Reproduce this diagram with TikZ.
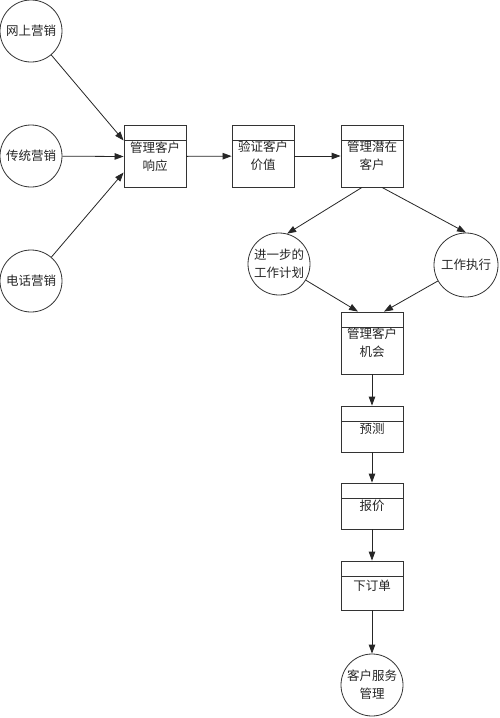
\documentclass[tikz,border=0pt]{standalone}
\usepackage{fontspec}
\setmainfont{Noto Sans CJK SC}
\usetikzlibrary{arrows.meta}
\tikzset{
  base/.style={draw=black!80, line width=0.8pt, inner sep=0pt, align=center,
    font=\fontsize{12.5}{18}\selectfont, text=black!85},
  circ/.style={base, circle, minimum size=62pt},
  proc/.style={base, rectangle, minimum width=62pt, minimum height=#1,
    path picture={\draw[black!80, line width=0.8pt]
      ([yshift=-15pt]path picture bounding box.north west) --
      ([yshift=-15pt]path picture bounding box.north east);}},
  proc/.default=62pt,
  arr/.style={draw=black!85, line width=0.8pt, -{Triangle[length=9pt,width=6.5pt]}}
}
\begin{document}
\begin{tikzpicture}[x=1pt,y=-1pt]
\useasboundingbox[fill=white] (0,0) rectangle (500,718);
\node[circ] (w1) at (31,31) {网上营销};
\node[circ] (w2) at (31,156) {传统营销};
\node[circ] (w3) at (31,281) {电话营销};
\node[proc] (b1) at (155,156.5) {管理客户\\响应};
\node[proc] (b2) at (263,156) {验证客户\\价值};
\node[proc] (b3) at (372,156) {管理潜在\\客户};
\node[circ] (c1) at (279,264) {进一步的\\工作计划};
\node[circ, minimum size=64pt] (c2) at (466,265) {工作执行};
\node[proc] (b4) at (372,343) {管理客户\\机会};
\node[proc=46pt] (b5) at (372,429) {预测};
\node[proc=46pt] (b6) at (372,506) {报价};
\node[proc=49pt] (b7) at (372,585.5) {下订单};
\node[circ] (c3) at (372,685) {客户服务\\管理};

\draw[arr] (w1) -- ([yshift=16pt]b1.west);
\draw[arr] (w2) -- (b1.west);
\draw[arr] (w3) -- ([yshift=-16pt]b1.west);
\draw[arr] (b1) -- (b2);
\draw[arr] (b2) -- (b3);
\draw[arr] ([xshift=-10pt]b3.south) -- (c1.75);
\draw[arr] ([xshift=10pt]b3.south) -- (c2.north);
\draw[arr] (c1) -- ([xshift=-14pt]b4.north);
\draw[arr] (c2) -- ([xshift=12pt]b4.north);
\draw[arr] (b4) -- (b5);
\draw[arr] (b5) -- (b6);
\draw[arr] (b6) -- (b7);
\draw[arr] (b7) -- (c3);
\end{tikzpicture}
\end{document}
